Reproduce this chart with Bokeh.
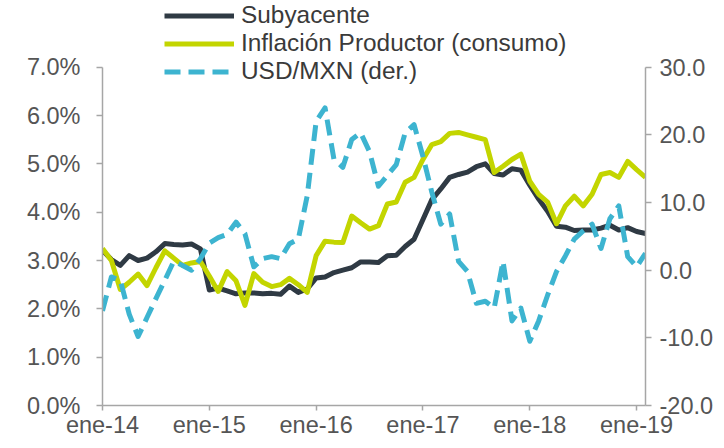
from bokeh.plotting import figure
from bokeh.models import (Range1d, LinearAxis, FixedTicker, PrintfTickFormatter,
                          Legend, LegendItem)
from bokeh.embed import file_html
from bokeh.resources import INLINE

# ---- data (monthly, ene-14 .. feb-19) ----
month_idx = list(range(62))
tick_pos = [0, 12, 24, 36, 48, 60]
tick_labels = ["ene-14", "ene-15", "ene-16", "ene-17", "ene-18", "ene-19"]
left_ticks = [0, 1, 2, 3, 4, 5, 6, 7]
right_ticks = [-20, -10, 0, 10, 20, 30]

subyacente = [3.21, 3.02, 2.90, 3.10, 3.00, 3.05, 3.18, 3.35, 3.33, 3.32, 3.34, 3.24,
              2.39, 2.43, 2.37, 2.31, 2.33, 2.33, 2.31, 2.32, 2.30, 2.47, 2.34, 2.41,
              2.64, 2.66, 2.75, 2.80, 2.85, 2.97, 2.97, 2.96, 3.10, 3.11, 3.29, 3.44,
              3.85, 4.26, 4.48, 4.72, 4.78, 4.83, 4.94, 5.00, 4.80, 4.77, 4.90, 4.87,
              4.56, 4.27, 4.02, 3.71, 3.69, 3.62, 3.63, 3.63, 3.67, 3.73, 3.63, 3.68,
              3.60, 3.56]

productor = [3.25, 3.00, 2.40, 2.55, 2.72, 2.48, 2.85, 3.20, 3.05, 2.90, 2.95, 2.98,
             2.68, 2.36, 2.77, 2.58, 2.07, 2.73, 2.55, 2.46, 2.50, 2.63, 2.50, 2.34,
             3.10, 3.40, 3.38, 3.37, 3.92, 3.78, 3.65, 3.72, 4.17, 4.21, 4.62, 4.72,
             5.09, 5.40, 5.46, 5.63, 5.65, 5.60, 5.55, 5.50, 4.82, 4.95, 5.09, 5.20,
             4.64, 4.37, 4.21, 3.76, 4.13, 4.33, 4.13, 4.37, 4.78, 4.82, 4.72, 5.05,
             4.88, 4.72]

usdmxn = [-6.0, -1.0, -1.5, -6.5, -9.8, -7.0, -4.2, -1.5, 1.3, 0.7, 0.0, 1.7,
          4.0, 4.8, 5.3, 7.1, 5.4, 0.5, 1.7, 2.0, 1.7, 3.9, 4.6, 11.0,
          22.0, 24.0, 16.4, 15.2, 19.3, 20.3, 17.5, 12.4, 14.0, 15.6, 20.3, 21.5,
          16.8, 11.5, 6.8, 8.3, 1.3, -0.2, -4.9, -4.6, -5.6, 1.3, -7.5, -5.6,
          -10.5, -7.5, -3.7, -0.2, 2.1, 4.6, 5.8, 6.8, 3.2, 7.6, 9.5, 2.0,
          0.5, 2.5]

FONT = "Liberation Sans"
FS = "23.5px"
LEG_FS = "24.4px"
TXT = "#555555"
AX = "#a6a6a6"
C_SUB = "#2f3a44"
C_PPI = "#c3d500"
C_FX = "#3db4d0"
LW = 5

W, H = 716, 440
BORDER_L, BORDER_R, BORDER_B = 102, 70, 33
FRAME_H = H - BORDER_B          # frame spans from the top of the canvas
TOP_PAD = 67                    # pixels above the 7.0% / 30.0 line
scale = (FRAME_H - TOP_PAD) / FRAME_H
left_max = left_ticks[-1] / scale
right_min, right_max_tick = right_ticks[0], right_ticks[-1]
right_max = right_min + (right_max_tick - right_min) / scale

p = figure(width=W, height=H, output_backend="svg", toolbar_location=None,
           x_range=Range1d(month_idx[0], month_idx[-1]), y_range=Range1d(0, left_max),
           min_border_left=BORDER_L, min_border_right=BORDER_R, min_border_top=0,
           min_border_bottom=BORDER_B)
p.title.visible = False
p.extra_y_ranges = {"fx": Range1d(right_min, right_max)}
p.outline_line_color = None
p.grid.visible = False
p.background_fill_color = "white"
p.border_fill_color = "white"


def style_axis(ax, standoff):
    ax.axis_line_color = AX
    ax.axis_line_width = 1.5
    ax.major_tick_line_color = AX
    ax.major_tick_line_width = 1.5
    ax.major_tick_out = 6
    ax.major_tick_in = 0
    ax.minor_tick_out = 0
    ax.minor_tick_in = 0
    ax.major_label_text_font = FONT
    ax.major_label_text_font_size = FS
    ax.major_label_text_color = TXT
    ax.major_label_standoff = standoff


xa = p.xaxis[0]
xa.ticker = FixedTicker(ticks=tick_pos)
xa.major_label_overrides = {t: l for t, l in zip(tick_pos, tick_labels)}
style_axis(xa, 1)
xa.major_tick_out = 5

ya = p.yaxis[0]
ya.ticker = FixedTicker(ticks=left_ticks)
ya.formatter = PrintfTickFormatter(format="%.1f%%")
ya.bounds = (left_ticks[0], left_ticks[-1])
style_axis(ya, 16)

ra = LinearAxis(y_range_name="fx", ticker=FixedTicker(ticks=right_ticks),
                formatter=PrintfTickFormatter(format="%.1f"),
                bounds=(right_ticks[0], right_ticks[-1]))
style_axis(ra, 8)
p.add_layout(ra, "right")

r1 = p.line(month_idx, subyacente, line_color=C_SUB, line_width=LW, line_join="round")
r2 = p.line(month_idx, productor, line_color=C_PPI, line_width=LW, line_join="round")
r3 = p.line(month_idx, usdmxn, y_range_name="fx", line_color=C_FX, line_width=LW,
            line_dash="16 8", line_join="round")

ROW = 27
legend = Legend(items=[LegendItem(label="Subyacente", renderers=[r1]),
                       LegendItem(label="Inflación Productor (consumo)", renderers=[r2]),
                       LegendItem(label="USD/MXN (der.)", renderers=[r3])],
                location=(62, FRAME_H - (6 + 3 * ROW)))
legend.background_fill_alpha = 0
legend.border_line_alpha = 0
legend.padding = 0
legend.margin = 0
legend.spacing = 0
legend.glyph_width = 70
legend.glyph_height = ROW
legend.label_height = ROW
legend.label_standoff = 7
legend.label_text_font = FONT
legend.label_text_font_size = LEG_FS
legend.label_text_color = "#3a3a3a"
p.add_layout(legend, "center")

open("out.html", "w").write(file_html(p, INLINE))
